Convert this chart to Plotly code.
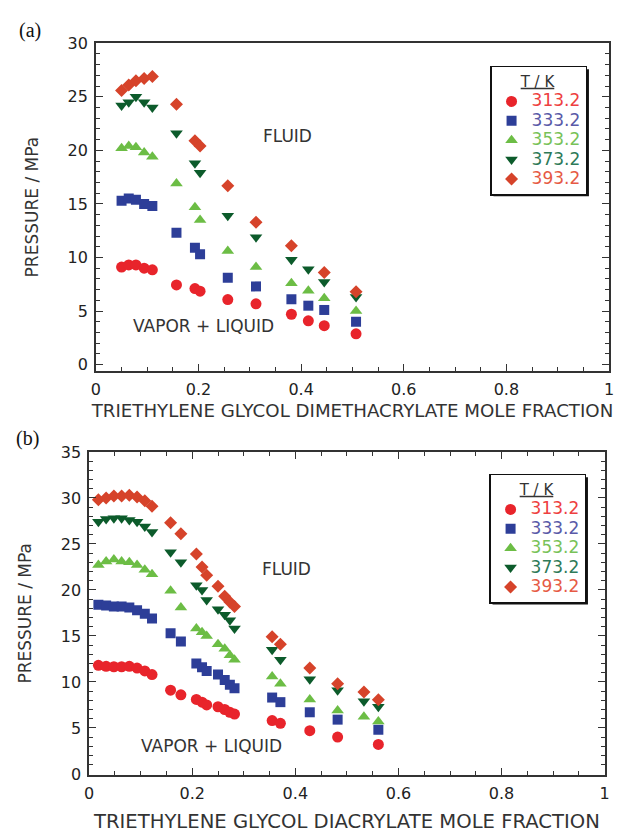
import plotly.graph_objects as go

# ---------------- data ----------------
temps = ["313.2", "333.2", "353.2", "373.2", "393.2"]

# panel (a): triethylene glycol dimethacrylate
x_a = [0.050, 0.064, 0.078, 0.094, 0.110, 0.157, 0.193, 0.203, 0.257, 0.312,
       0.381, 0.414, 0.445, 0.507]
p313_a = [9.1, 9.3, 9.3, 9.0, 8.85, 7.44, 7.1, 6.85, 6.07, 5.67, 4.70, 4.09, 3.63, 2.87]
p333_a = [15.3, 15.5, 15.4, 15.0, 14.8, 12.3, 10.9, 10.3, 8.1, 7.3, 6.1, 5.5, 5.1, 4.0]
p353_a = [20.2, 20.4, 20.3, 19.8, 19.4, 16.9, 14.7, 13.5, 10.6, 9.1, 7.6, 6.9, 6.2, 5.0]
p373_a = [24.2, 24.5, 25.0, 24.5, 24.0, 21.6, 18.8, 17.9, 13.9, 11.9, 9.8, 8.9, 7.7, 6.3]
p393_a = [25.6, 26.1, 26.5, 26.7, 26.9, 24.3, 20.9, 20.4, 16.7, 13.3, 11.1, None, 8.6, 6.8]

# panel (b): triethylene glycol diacrylate
x_b = [0.018, 0.033, 0.048, 0.063, 0.078, 0.093, 0.108, 0.122, 0.158, 0.178,
       0.208, 0.219, 0.228, 0.250, 0.263, 0.273, 0.282, 0.355, 0.371, 0.428,
       0.482, 0.533, 0.561]
p313_b = [11.8, 11.7, 11.65, 11.65, 11.7, 11.5, 11.2, 10.8, 9.1, 8.6, 8.1, 7.8,
          7.5, 7.3, 7.0, 6.7, 6.5, 5.8, 5.5, 4.7, 4.0, None, 3.2]
p333_b = [18.4, 18.3, 18.2, 18.2, 18.1, 17.8, 17.4, 16.9, 15.3, 14.4, 12.0, 11.6,
          11.2, 10.8, 10.2, 9.7, 9.3, 8.3, 7.8, 6.7, 5.9, None, 4.8]
p353_b = [22.7, 23.1, 23.3, 23.1, 23.0, 22.7, 22.2, 21.7, 19.9, 18.1, 15.8, 15.4,
          15.0, 14.1, 13.6, 12.9, 12.4, 10.6, 9.8, 8.1, 6.9, 6.2, 5.7]
p373_b = [27.4, 27.7, 27.8, 27.8, 27.6, 27.4, 26.9, 26.3, 24.1, 23.0, 20.5, 20.0,
          18.9, 17.9, 17.3, 16.7, 15.8, 13.5, 12.4, 10.3, 9.1, 7.9, 7.3]
p393_b = [29.8, 30.0, 30.2, 30.2, 30.3, 30.1, 29.7, 29.1, 27.3, 26.1, 23.9, 22.5,
          21.6, 20.4, 19.3, 18.7, 18.2, 14.9, 14.1, 11.5, 9.8, 8.9, 8.05]

x_title_a = "TRIETHYLENE GLYCOL DIMETHACRYLATE MOLE FRACTION"
x_title_b = "TRIETHYLENE GLYCOL DIACRYLATE MOLE FRACTION"
y_title = "PRESSURE / MPa"

# ---------------- style ----------------
W, H = 621, 835
marker_colors = ["#e8242b", "#2d3e98", "#6cbd45", "#0c5b2b", "#d6432a"]
text_colors = ["#ee4040", "#5a5aa8", "#78c258", "#2e7a58", "#e65a44"]
symbols = ["circle", "square", "triangle-up", "triangle-down", "diamond"]
sizes = [11, 10, 11, 11, 10]
FONT = "DejaVu Sans"
AX = "#333333"


def px_x(v):
    return v / W


def px_y(v):
    return 1 - v / H


fig = go.Figure()

series_a = [p313_a, p333_a, p353_a, p373_a, p393_a]
series_b = [p313_b, p333_b, p353_b, p373_b, p393_b]

for i, ys in enumerate(series_a):
    fig.add_trace(go.Scatter(
        x=x_a, y=ys, mode="markers", xaxis="x", yaxis="y", legend="legend",
        name=f'<span style="font-size:17px;color:{text_colors[i]}">{temps[i]}</span>',
        marker=dict(symbol=symbols[i], size=sizes[i], color=marker_colors[i], line=dict(width=0)),
    ))
for i, ys in enumerate(series_b):
    fig.add_trace(go.Scatter(
        x=x_b, y=ys, mode="markers", xaxis="x2", yaxis="y2", legend="legend2",
        name=f'<span style="font-size:17px;color:{text_colors[i]}">{temps[i]}</span>',
        marker=dict(symbol=symbols[i], size=sizes[i], color=marker_colors[i], line=dict(width=0)),
    ))


def xaxis(domain, anchor, title, topticks, tsize, tstand):
    return dict(
        domain=domain, anchor=anchor, range=[0, 1], dtick=0.2, tick0=0,
        showgrid=False, zeroline=False, showline=True, linecolor=AX, linewidth=1.5,
        mirror="ticks" if topticks else True,
        ticks="inside", ticklen=7, tickwidth=1, tickcolor=AX,
        minor=dict(ticks="inside", ticklen=4, dtick=0.05, tickcolor=AX, tickwidth=1, showgrid=False),
        tickfont=dict(family=FONT, size=16, color="#222"),
        ticklabelstandoff=3,
        title=dict(text=title, font=dict(family=FONT, size=tsize, color="#333"), standoff=tstand),
    )


def yaxis(domain, anchor, rng):
    return dict(
        domain=domain, anchor=anchor, range=rng, dtick=5, tick0=0,
        showgrid=False, zeroline=False, showline=True, linecolor=AX, linewidth=1.5,
        mirror="ticks", ticks="inside", ticklen=7, tickwidth=1, tickcolor=AX,
        minor=dict(ticks="inside", ticklen=4, dtick=1, tickcolor=AX, tickwidth=1, showgrid=False),
        tickfont=dict(family=FONT, size=16, color="#222"),
        ticklabelstandoff=3,
        title=dict(text=y_title, font=dict(family=FONT, size=17, color="#333"), standoff=25),
    )


legend_common = dict(
    xanchor="left", yanchor="top", bgcolor="white", bordercolor="#111", borderwidth=1.5,
    font=dict(family=FONT, size=12.6, color="#333"),
    title=dict(text="<u>T / K</u>", side="top center", font=dict(family=FONT, size=15, color="#333")),
    itemclick=False, tracegroupgap=0,
)

# legend boxes (left, top, right, bottom in pixels; size estimated from plotly's legend layout)
LEG_W, LEG_H = 97, 130
leg_a = (493, 58, 493 + LEG_W, 58 + LEG_H)
leg_b = (492, 475, 492 + LEG_W, 475 + LEG_H)


def shadow(box, off=3.5):
    x0, y0, x1, y1 = box
    return dict(type="rect", xref="paper", yref="paper", layer="above",
                x0=px_x(x0 + off), x1=px_x(x1 + off), y0=px_y(y1 + off), y1=px_y(y0 + off),
                fillcolor="#111", line=dict(width=0))


fig.update_layout(
    width=W, height=H, margin=dict(l=0, r=0, t=0, b=0),
    paper_bgcolor="white", plot_bgcolor="white", showlegend=True,
    xaxis=xaxis([px_x(92.4), px_x(613.9)], "y", x_title_a, False, 18.2, 6),
    yaxis=yaxis([px_y(370), px_y(35)], "x", [-0.6, 30]),
    xaxis2=xaxis([px_x(85.5), px_x(609.5)], "y2", x_title_b, True, 19.6, 13),
    yaxis2=yaxis([px_y(782.7), px_y(452.7)], "x2", [-0.1, 35]),
    legend=dict(x=px_x(leg_a[0]), y=px_y(leg_a[1]), **legend_common),
    legend2=dict(x=px_x(leg_b[0]), y=px_y(leg_b[1]), **legend_common),
    shapes=[shadow(leg_a), shadow(leg_b)],
    annotations=[
        dict(text="FLUID", x=0.374, y=21.3, xref="x", yref="y", showarrow=False,
             font=dict(family=FONT, size=17, color="#333")),
        dict(text="VAPOR + LIQUID", x=0.2096, y=3.63, xref="x", yref="y", showarrow=False,
             font=dict(family=FONT, size=17, color="#333")),
        dict(text="FLUID", x=0.383, y=22.3, xref="x2", yref="y2", showarrow=False,
             font=dict(family=FONT, size=17, color="#333")),
        dict(text="VAPOR + LIQUID", x=0.2376, y=3.0, xref="x2", yref="y2", showarrow=False,
             font=dict(family=FONT, size=17, color="#333")),
        dict(text="(a)", x=px_x(25), y=px_y(22), xref="paper", yref="paper", showarrow=False,
             xanchor="center", yanchor="middle",
             font=dict(family="Liberation Serif", size=20, color="#111")),
        dict(text="(b)", x=px_x(23), y=px_y(439), xref="paper", yref="paper", showarrow=False,
             xanchor="center", yanchor="middle",
             font=dict(family="Liberation Serif", size=20, color="#111")),
    ],
)

fig.write_html("out.html")
